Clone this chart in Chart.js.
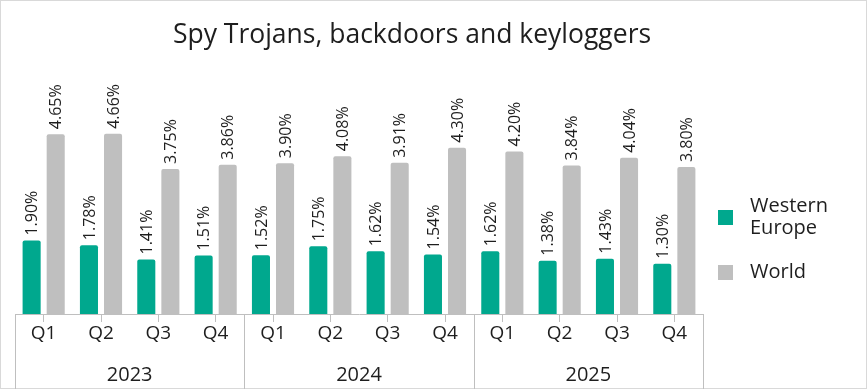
<!DOCTYPE html>
<html>
<head>
<meta charset="utf-8">
<script src="https://cdn.jsdelivr.net/npm/chart.js@4"></script>
<style>
  html, body { margin: 0; padding: 0; background: #fff; }
  #wrap { width: 868px; height: 390px; }
</style>
</head>
<body>
<div id="wrap"><canvas id="spyChart" width="868" height="390"></canvas></div>
<script>
// Chart data
const years = ['2023', '2024', '2025'];
const quarters = ['Q1', 'Q2', 'Q3', 'Q4'];
const westernEurope = [1.90, 1.78, 1.41, 1.51, 1.52, 1.75, 1.62, 1.54, 1.62, 1.38, 1.43, 1.30];
const world = [4.65, 4.66, 3.75, 3.86, 3.90, 4.08, 3.91, 4.30, 4.20, 3.84, 4.04, 3.80];
const seriesNames = ['Western Europe', 'World'];
const chartTitle = 'Spy Trojans, backdoors and keyloggers';

const FONT = '"Open Sans", "Noto Sans", sans-serif';
const TEXT = '#1e1e1e';
const TEAL = '#00a88e';
const GREY = '#bfbfbf';

// one label per quarter, year labels drawn underneath by plugin
const labels = [];
years.forEach(() => quarters.forEach(q => labels.push(q)));

// Value labels rotated above each bar
const valueLabels = {
    id: 'valueLabels',
    afterDatasetsDraw(chart) {
        const ctx = chart.ctx;
        ctx.save();
        ctx.font = '16px ' + FONT;
        ctx.fillStyle = TEXT;
        ctx.textAlign = 'left';
        ctx.textBaseline = 'middle';
        chart.data.datasets.forEach((ds, i) => {
            chart.getDatasetMeta(i).data.forEach((bar, j) => {
                ctx.save();
                ctx.translate(bar.x, bar.y - 5);
                ctx.rotate(-Math.PI / 2);
                ctx.fillText(ds.data[j].toFixed(2) + '%', 0, 1);
                ctx.restore();
            });
        });
        ctx.restore();
    }
};

// Title, legend, year groups and frame
const decorations = {
    id: 'decorations',
    afterDraw(chart) {
        const ctx = chart.ctx;
        const x = chart.scales.x;
        const area = chart.chartArea;
        ctx.save();

        // frame
        ctx.strokeStyle = '#d9d9d9';
        ctx.lineWidth = 1;
        ctx.strokeRect(0.5, 0.5, 866, 388);

        // title
        ctx.fillStyle = TEXT;
        ctx.font = '26.5px ' + FONT;
        ctx.textAlign = 'center';
        ctx.textBaseline = 'middle';
        ctx.fillText(chartTitle, 412, 35);

        // year separators and labels
        ctx.strokeStyle = GREY;
        ctx.beginPath();
        for (let g = 0; g <= years.length; g++) {
            let px;
            if (g === 0) px = area.left;
            else if (g === years.length) px = area.right;
            else px = (x.getPixelForValue(g * 4 - 1) + x.getPixelForValue(g * 4)) / 2;
            px = Math.round(px) + 0.5;
            ctx.moveTo(px, area.bottom);
            ctx.lineTo(px, 389);
        }
        ctx.stroke();

        ctx.font = '20px ' + FONT;
        years.forEach((y, g) => {
            const cx = (x.getPixelForValue(g * 4) + x.getPixelForValue(g * 4 + 3)) / 2;
            ctx.fillText(y, cx, 375);
        });

        // legend
        const colors = [TEAL, GREY];
        const rows = [[seriesNames[0].split(' ')[0], seriesNames[0].split(' ')[1]], [seriesNames[1]]];
        const rowY = [217, 272];
        ctx.font = '20px ' + FONT;
        ctx.textAlign = 'left';
        rows.forEach((lines, i) => {
            ctx.fillStyle = colors[i];
            ctx.fillRect(718, rowY[i] - 7, 15, 15);
            ctx.fillStyle = TEXT;
            const top = rowY[i] - (lines.length - 1) * 11;
            lines.forEach((t, k) => ctx.fillText(t, 750, top + k * 22));
        });

        ctx.restore();
    }
};

document.addEventListener('DOMContentLoaded', function() {
    const ctx = document.getElementById('spyChart');
    new Chart(ctx, {
        type: 'bar',
        data: {
            labels: labels,
            datasets: [{
                label: seriesNames[0],
                data: westernEurope,
                backgroundColor: TEAL,
                borderRadius: 2,
                categoryPercentage: 0.84,
                barPercentage: 0.75
            }, {
                label: seriesNames[1],
                data: world,
                backgroundColor: GREY,
                borderRadius: 2,
                categoryPercentage: 0.84,
                barPercentage: 0.75
            }]
        },
        options: {
            responsive: false,
            animation: false,
            layout: {
                padding: { left: 15, right: 165, top: 82, bottom: 0 }
            },
            plugins: {
                legend: { display: false },
                title: { display: false },
                tooltip: { enabled: false }
            },
            scales: {
                x: {
                    afterFit(scale) { scale.height = 76; },
                    grid: {
                        offset: false,
                        drawOnChartArea: false,
                        tickLength: 8,
                        color: GREY
                    },
                    border: { display: true, color: GREY },
                    ticks: {
                        padding: 0,
                        color: TEXT,
                        font: { family: FONT, size: 19 },
                        maxRotation: 0,
                        autoSkip: false
                    }
                },
                y: {
                    display: false,
                    min: 0,
                    max: 6
                }
            }
        },
        plugins: [valueLabels, decorations]
    });
});
</script>
</body>
</html>
